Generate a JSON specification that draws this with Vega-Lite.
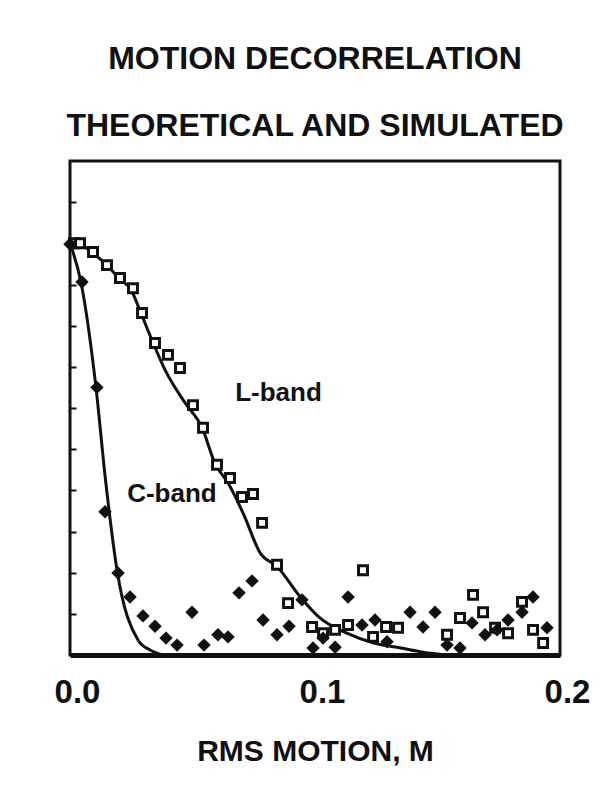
{
  "$schema": "https://vega.github.io/schema/vega-lite/v6.json",
  "autosize": "none",
  "padding": {"left": 70, "top": 161, "right": 45, "bottom": 148},
  "width": 490,
  "height": 494,
  "background": "white",
  "title": {
    "text": ["MOTION DECORRELATION", "THEORETICAL AND SIMULATED"],
    "font": "Liberation Sans",
    "fontSize": 32,
    "fontWeight": "bold",
    "color": "#111",
    "lineHeight": 67,
    "baseline": "alphabetic",
    "anchor": "middle",
    "offset": -7
  },
  "config": {
    "view": {"stroke": "#111", "strokeWidth": 3},
    "font": "Liberation Sans"
  },
  "datasets": {
    "theory": [
      {"band": "L-band", "m": 0, "r": 1.0},
      {"band": "L-band", "m": 0.004, "r": 0.998},
      {"band": "L-band", "m": 0.009, "r": 0.978},
      {"band": "L-band", "m": 0.015, "r": 0.947},
      {"band": "L-band", "m": 0.020, "r": 0.915},
      {"band": "L-band", "m": 0.025, "r": 0.886},
      {"band": "L-band", "m": 0.029, "r": 0.83},
      {"band": "L-band", "m": 0.034, "r": 0.757},
      {"band": "L-band", "m": 0.039, "r": 0.69},
      {"band": "L-band", "m": 0.047, "r": 0.612},
      {"band": "L-band", "m": 0.054, "r": 0.551},
      {"band": "L-band", "m": 0.059, "r": 0.468},
      {"band": "L-band", "m": 0.065, "r": 0.413},
      {"band": "L-band", "m": 0.071, "r": 0.34},
      {"band": "L-band", "m": 0.0776, "r": 0.248},
      {"band": "L-band", "m": 0.0845, "r": 0.215},
      {"band": "L-band", "m": 0.094, "r": 0.141},
      {"band": "L-band", "m": 0.102, "r": 0.09},
      {"band": "L-band", "m": 0.113, "r": 0.053},
      {"band": "L-band", "m": 0.124, "r": 0.029},
      {"band": "L-band", "m": 0.135, "r": 0.017},
      {"band": "L-band", "m": 0.144, "r": 0.007},
      {"band": "L-band", "m": 0.154, "r": 0.0},
      {"band": "C-band", "m": 0, "r": 1.0},
      {"band": "C-band", "m": 0.0045, "r": 0.905},
      {"band": "C-band", "m": 0.0106, "r": 0.65},
      {"band": "C-band", "m": 0.0145, "r": 0.425},
      {"band": "C-band", "m": 0.0192, "r": 0.206},
      {"band": "C-band", "m": 0.0278, "r": 0.036},
      {"band": "C-band", "m": 0.0327, "r": 0.012},
      {"band": "C-band", "m": 0.038, "r": 0.0}
    ],
    "sim": [
      {"band": "L-band", "m": 0.0016, "r": 1.0},
      {"band": "L-band", "m": 0.0041, "r": 1.0},
      {"band": "L-band", "m": 0.0094, "r": 0.979},
      {"band": "L-band", "m": 0.0151, "r": 0.947},
      {"band": "L-band", "m": 0.0204, "r": 0.916},
      {"band": "L-band", "m": 0.0257, "r": 0.891},
      {"band": "L-band", "m": 0.0294, "r": 0.831},
      {"band": "L-band", "m": 0.0347, "r": 0.758},
      {"band": "L-band", "m": 0.04, "r": 0.729},
      {"band": "L-band", "m": 0.0449, "r": 0.697},
      {"band": "L-band", "m": 0.0502, "r": 0.607},
      {"band": "L-band", "m": 0.0543, "r": 0.552},
      {"band": "L-band", "m": 0.06, "r": 0.462},
      {"band": "L-band", "m": 0.0653, "r": 0.43},
      {"band": "L-band", "m": 0.0702, "r": 0.384},
      {"band": "L-band", "m": 0.0747, "r": 0.391},
      {"band": "L-band", "m": 0.0784, "r": 0.321},
      {"band": "L-band", "m": 0.0845, "r": 0.219},
      {"band": "L-band", "m": 0.089, "r": 0.126},
      {"band": "L-band", "m": 0.1196, "r": 0.206},
      {"band": "L-band", "m": 0.0988, "r": 0.068},
      {"band": "L-band", "m": 0.1033, "r": 0.053},
      {"band": "L-band", "m": 0.1082, "r": 0.061},
      {"band": "L-band", "m": 0.1135, "r": 0.073},
      {"band": "L-band", "m": 0.1237, "r": 0.044},
      {"band": "L-band", "m": 0.129, "r": 0.068},
      {"band": "L-band", "m": 0.1339, "r": 0.066},
      {"band": "L-band", "m": 0.1539, "r": 0.049},
      {"band": "L-band", "m": 0.1592, "r": 0.09},
      {"band": "L-band", "m": 0.1645, "r": 0.146},
      {"band": "L-band", "m": 0.1686, "r": 0.104},
      {"band": "L-band", "m": 0.1735, "r": 0.066},
      {"band": "L-band", "m": 0.1788, "r": 0.053},
      {"band": "L-band", "m": 0.1845, "r": 0.129},
      {"band": "L-band", "m": 0.189, "r": 0.061},
      {"band": "L-band", "m": 0.1931, "r": 0.029},
      {"band": "C-band", "m": 0.0, "r": 0.998},
      {"band": "C-band", "m": 0.0049, "r": 0.906},
      {"band": "C-band", "m": 0.011, "r": 0.65},
      {"band": "C-band", "m": 0.0143, "r": 0.348},
      {"band": "C-band", "m": 0.0196, "r": 0.199},
      {"band": "C-band", "m": 0.0245, "r": 0.141},
      {"band": "C-band", "m": 0.0298, "r": 0.095},
      {"band": "C-band", "m": 0.0347, "r": 0.07},
      {"band": "C-band", "m": 0.0392, "r": 0.041},
      {"band": "C-band", "m": 0.0437, "r": 0.024},
      {"band": "C-band", "m": 0.0498, "r": 0.104},
      {"band": "C-band", "m": 0.0547, "r": 0.024},
      {"band": "C-band", "m": 0.0604, "r": 0.049},
      {"band": "C-band", "m": 0.0645, "r": 0.044},
      {"band": "C-band", "m": 0.069, "r": 0.151},
      {"band": "C-band", "m": 0.0743, "r": 0.18},
      {"band": "C-band", "m": 0.0788, "r": 0.085},
      {"band": "C-band", "m": 0.0845, "r": 0.049},
      {"band": "C-band", "m": 0.0894, "r": 0.07},
      {"band": "C-band", "m": 0.0947, "r": 0.134},
      {"band": "C-band", "m": 0.1135, "r": 0.141},
      {"band": "C-band", "m": 0.0992, "r": 0.017},
      {"band": "C-band", "m": 0.1082, "r": 0.019},
      {"band": "C-band", "m": 0.1033, "r": 0.041},
      {"band": "C-band", "m": 0.1192, "r": 0.073},
      {"band": "C-band", "m": 0.1245, "r": 0.085},
      {"band": "C-band", "m": 0.1294, "r": 0.032},
      {"band": "C-band", "m": 0.1388, "r": 0.104},
      {"band": "C-band", "m": 0.1441, "r": 0.068},
      {"band": "C-band", "m": 0.149, "r": 0.104},
      {"band": "C-band", "m": 0.1539, "r": 0.024},
      {"band": "C-band", "m": 0.1592, "r": 0.017},
      {"band": "C-band", "m": 0.1641, "r": 0.078},
      {"band": "C-band", "m": 0.1694, "r": 0.049},
      {"band": "C-band", "m": 0.1743, "r": 0.061},
      {"band": "C-band", "m": 0.1788, "r": 0.085},
      {"band": "C-band", "m": 0.1845, "r": 0.104},
      {"band": "C-band", "m": 0.189, "r": 0.141},
      {"band": "C-band", "m": 0.1947, "r": 0.066}
    ],
    "labels": [
      {"label": "L-band", "m": 0.0851, "r": 0.617},
      {"label": "C-band", "m": 0.0416, "r": 0.372}
    ]
  },
  "encoding": {
    "x": {
      "field": "m",
      "type": "quantitative",
      "scale": {"domain": [0, 0.2], "nice": false, "zero": false},
      "axis": {
        "title": "RMS MOTION, M",
        "values": [0, 0.1, 0.2],
        "format": ".1f",
        "ticks": false,
        "grid": false,
        "domain": true,
        "domainColor": "#111",
        "domainWidth": 5,
        "labelFont": "Liberation Sans",
        "labelFontSize": 33,
        "labelFontWeight": "bold",
        "labelColor": "#111",
        "labelPadding": 21,
        "labelOffset": 7,
        "labelFlush": false,
        "labelOverlap": false,
        "titleFont": "Liberation Sans",
        "titleFontSize": 30,
        "titleFontWeight": "bold",
        "titleColor": "#111",
        "titlePadding": 27
      }
    },
    "y": {
      "field": "r",
      "type": "quantitative",
      "scale": {"domain": [0, 1.2], "nice": false, "zero": false},
      "axis": {
        "title": null,
        "labels": false,
        "domain": false,
        "grid": false,
        "ticks": true,
        "values": [0.1, 0.2, 0.3, 0.4, 0.5, 0.6, 0.7, 0.8, 0.9, 1.0, 1.1],
        "tickSize": -6,
        "tickWidth": 2,
        "tickColor": "#111"
      }
    }
  },
  "layer": [
    {
      "data": {"name": "theory"},
      "mark": {"type": "line", "color": "#111", "strokeWidth": 3, "interpolate": "monotone"},
      "encoding": {"detail": {"field": "band"}}
    },
    {
      "data": {"name": "sim"},
      "transform": [{"filter": "datum.band === 'L-band'"}],
      "mark": {"type": "point", "shape": "square", "size": 80, "filled": false, "fill": "white", "fillOpacity": 1, "stroke": "#111", "strokeWidth": 3, "opacity": 1}
    },
    {
      "data": {"name": "sim"},
      "transform": [{"filter": "datum.band === 'C-band'"}],
      "mark": {"type": "point", "shape": "diamond", "size": 180, "filled": true, "color": "#111", "opacity": 1}
    },
    {
      "data": {"name": "labels"},
      "mark": {"type": "text", "font": "Liberation Sans", "fontSize": 26, "fontWeight": "bold", "color": "#111", "align": "center", "baseline": "alphabetic"},
      "encoding": {"text": {"field": "label"}}
    }
  ]
}
